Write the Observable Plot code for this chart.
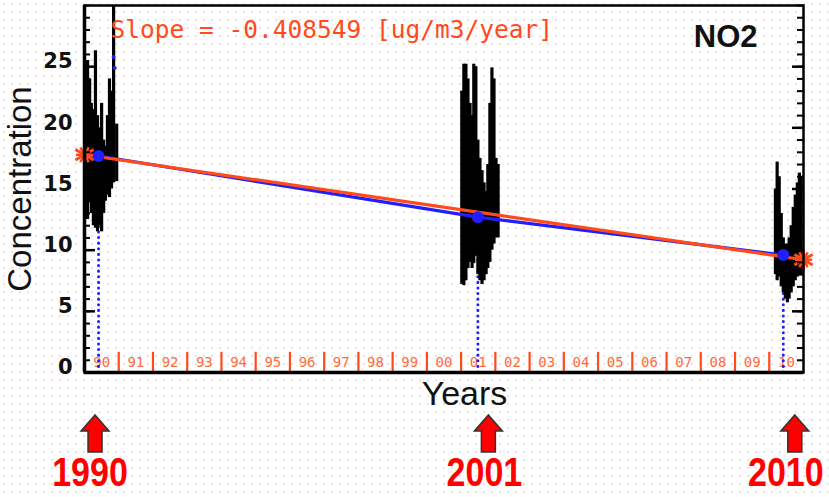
<!DOCTYPE html>
<html><head><meta charset="utf-8">
<script src="https://cdn.jsdelivr.net/npm/d3@7"></script>
<script src="https://cdn.jsdelivr.net/npm/@observablehq/plot@0.6"></script>
<style>
body{margin:0;background:#fff}
#wrap{position:relative;width:829px;height:497px;overflow:hidden;
 background-image:radial-gradient(circle,#ece2e2 0.7px,transparent 1.2px);background-size:8px 8px;}
#wrap svg{position:absolute;left:0;top:0}
</style></head>
<body><div id="wrap"></div>
<script>
// ---- data ----
const cellStart = d3.range(1990, 2011);
const cellLabels = ["90","91","92","93","94","95","96","97","98","99","00","01","02","03","04","05","06","07","08","09","10"];
const yTicks = [0,5,10,15,20,25];
const minorTicks = d3.range(0, 31);

const barYear = [
  1990.03,1990.09,1990.15,1990.20,1990.26,1990.32,1990.38,1990.44,1990.50,1990.56,1990.61,1990.67,1990.73,1990.79,1990.85,1990.94,
  2001.02,2001.08,2001.14,2001.20,2001.26,2001.32,2001.37,2001.43,2001.49,2001.55,2001.61,2001.67,2001.73,2001.78,2001.84,2001.90,2001.96,2002.02,2002.08,
  2010.18,2010.23,2010.29,2010.35,2010.41,2010.47,2010.53,2010.58,2010.64,2010.70,2010.76,2010.82,2010.88,2010.93];
const barLow = [
  13,12.5,14,13,12,11.8,11.5,12,11.5,13,14,14.5,14.3,15,15.5,15.6,
  7.2,7.1,7.5,8.5,9,8.5,8.9,9.5,8,7.5,7.2,7.5,8,8.5,9,10,10.5,11,11,
  8,7.5,7.8,7,6.5,6,5.7,6,6.5,7,7.5,7.8,8,8];
const barHigh = [
  25.5,25.5,24,22,21.5,26.3,21,20,22,19,18.5,21,24,23,30,20.3,
  23,25.2,25.2,24,22,21,25.2,25,19,17.5,16.5,15.5,14.8,17,22,24.9,24,17.5,17,
  15,17.2,16,13,11,10.5,10.5,11,12,13.5,14.5,15.5,16.3,16];

const meanYear = [1990.41, 2001.49, 2010.41];
const meanConc = [17.7, 12.7, 9.6];
const outlierYear = [1990.85, 1990.88];
const outlierConc = [25.8, 24.9];
const fitYear = [1990, 2011];
const fitConc = [17.8, 9.22];
const slopeLabel = "Slope = -0.408549 [ug/m3/year]";
const speciesLabel = "NO2";
const markedYears = ["1990", "2001", "2010"];

const RED = "#ff4a1c", BLUE = "#1f1fff";
const bars = barYear.map((x,i)=>({x, lo: barLow[i], hi: barHigh[i]}));
const means = meanYear.map((x,i)=>({x, y: meanConc[i]}));
const fit = fitYear.map((x,i)=>({x, y: fitConc[i]}));
const outliers = outlierYear.map((x,i)=>({x, y: outlierConc[i]}));
const FW = 719;

const plot = Plot.plot({
  width: 829, height: 410,
  marginLeft: 84, marginRight: 26, marginTop: 5, marginBottom: 38,
  x: {domain: [1990, 2011], axis: null},
  y: {domain: [0, 30], axis: null},
  style: {background: "transparent", overflow: "visible"},
  marks: [
    Plot.ruleX(cellStart, {x: d=>d, y1: 0, y2: 1.65, stroke: RED, strokeWidth: 2.2}),
    Plot.text(cellLabels, {x: (d,i)=>cellStart[i]+0.5, y: 0.8, text: d=>d, fill: "#ff6a3d",
      fontSize: 14, fontFamily: "DejaVu Sans Mono"}),
    Plot.ruleX(means, {x: "x", y1: 0, y2: "y", stroke: BLUE, strokeWidth: 3,
      strokeDasharray: "0.1 5.5", strokeLinecap: "round"}),
    Plot.ruleX(bars, {x: "x", y1: "lo", y2: "hi", stroke: "black", strokeWidth: 3.2}),
    Plot.dot(outliers, {x: "x", y: "y", r: 2, fill: BLUE}),
    Plot.line(means, {x: "x", y: "y", stroke: BLUE, strokeWidth: 3.2}),
    Plot.line(fit, {x: "x", y: "y", stroke: RED, strokeWidth: 3.2}),
    Plot.dot(means, {x: "x", y: "y", r: 6, fill: BLUE}),
    Plot.dot(fit, {x: "x", y: "y", symbol: "asterisk", r: 10, stroke: RED, strokeWidth: 3}),
    Plot.dot(fit, {x: "x", y: "y", symbol: "asterisk", r: 8, rotate: 90, stroke: RED, strokeWidth: 2.5}),
    // inward ticks, left and right
    Plot.tickY(minorTicks, {y: d=>d, insetRight: FW - 6, stroke: "black", strokeWidth: 2}),
    Plot.tickY(yTicks, {y: d=>d, insetRight: FW - 11, stroke: "black", strokeWidth: 2.5}),
    Plot.tickY(minorTicks, {y: d=>d, insetLeft: FW - 6, stroke: "black", strokeWidth: 2}),
    Plot.tickY(yTicks, {y: d=>d, insetLeft: FW - 11, stroke: "black", strokeWidth: 2.5}),
    Plot.frame({stroke: "black", strokeWidth: 2.5}),
    Plot.ruleX([1990], {stroke: "black", strokeWidth: 3.5}),
    Plot.ruleY([0], {stroke: "black", strokeWidth: 3.5}),
    Plot.axisY({ticks: yTicks, tickSize: 0, tickPadding: 12, fontSize: 21, fontWeight: "bold",
      fontFamily: "DejaVu Sans", dy: -5, label: null, fill: "#111"}),
    Plot.text([slopeLabel], {frameAnchor: "top-left", dx: 26, dy: 25, lineAnchor: "middle",
      textAnchor: "start", fill: RED, fontSize: 24.5, fontFamily: "DejaVu Sans Mono"}),
    Plot.text([speciesLabel], {frameAnchor: "top-right", dx: -46, dy: 32, lineAnchor: "middle",
      textAnchor: "end", fill: "#111", fontSize: 31, fontWeight: "bold", fontFamily: "Liberation Sans"}),
    Plot.text(["Concentration"], {frameAnchor: "left", dx: -64, rotate: -90, textAnchor: "middle",
      lineAnchor: "middle", fill: "#111", fontSize: 33, fontFamily: "Liberation Sans"}),
    Plot.text(["Years"], {frameAnchor: "bottom", dx: 20.5, dy: 22, lineAnchor: "middle", fill: "#111",
      fontSize: 34, fontFamily: "Liberation Sans"})
  ]
});
const wrap = document.getElementById("wrap");
wrap.appendChild(plot);

// annotation arrows below the chart
const xs = plot.scale("x");
const arrowOffsets = [-3, 11, 12];
const labelOffsets = [-5, -4, -9];
const ov = d3.select(wrap).append("svg").attr("width", 829).attr("height", 497);
markedYears.forEach((lab, i) => {
  const cx = xs.apply(meanYear[i]) + arrowOffsets[i];
  const top = 415, neck = 431, bot = 452;
  ov.append("polygon")
    .attr("points", [[cx,top],[cx+14,neck],[cx+7,neck],[cx+7,bot],[cx-7,bot],[cx-7,neck],[cx-14,neck]].map(p=>p.join(",")).join(" "))
    .attr("fill", "#ff0000").attr("stroke", "#333").attr("stroke-width", 1.5).attr("stroke-linejoin", "miter");
  ov.append("text")
    .attr("transform", `translate(${cx + labelOffsets[i]},486) scale(0.83,1)`)
    .attr("text-anchor", "middle")
    .attr("font-family", "Liberation Sans Narrow, Liberation Sans").attr("font-weight", "bold")
    .attr("font-size", 41).attr("fill", "#ff0000").text(lab);
});
</script></body></html>
